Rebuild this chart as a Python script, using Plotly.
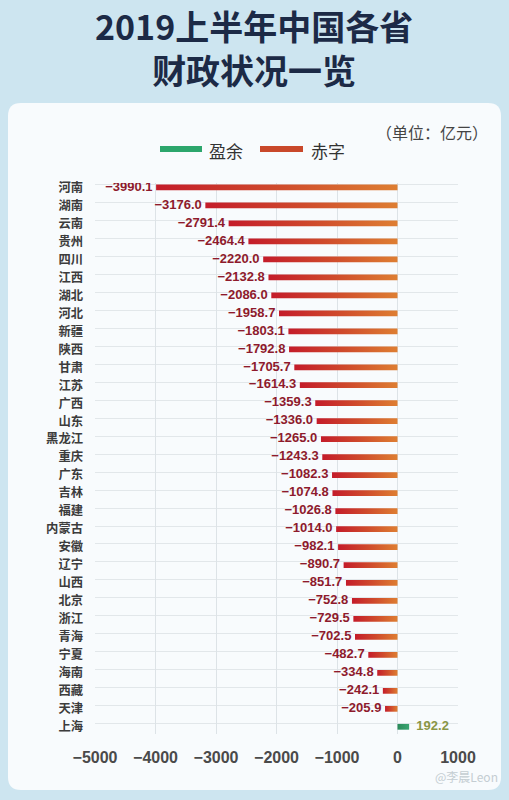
import plotly.graph_objects as go

# ---------------- data ----------------
provinces = ["河南", "湖南", "云南", "贵州", "四川", "江西", "湖北", "河北", "新疆", "陕西",
             "甘肃", "江苏", "广西", "山东", "黑龙江", "重庆", "广东", "吉林", "福建", "内蒙古",
             "安徽", "辽宁", "山西", "北京", "浙江", "青海", "宁夏", "海南", "西藏", "天津", "上海"]
balances = [-3990.1, -3176.0, -2791.4, -2464.4, -2220.0, -2132.8, -2086.0, -1958.7, -1803.1, -1792.8,
            -1705.7, -1614.3, -1359.3, -1336.0, -1265.0, -1243.3, -1082.3, -1074.8, -1026.8, -1014.0,
            -982.1, -890.7, -851.7, -752.8, -729.5, -702.5, -482.7, -334.8, -242.1, -205.9, 192.2]
x_ticks = [-5000, -4000, -3000, -2000, -1000, 0, 1000]
legend_names = ["盈余", "赤字"]
title_lines = ["2019上半年中国各省", "财政状况一览"]
unit_label = "（单位：亿元）"

# ---------------- layout geometry (pixels) ----------------
W, H = 509, 800
ML, MR, MT, MB = 95, 51, 183, 66
PW, PH = W - ML - MR, H - MT - MB


def px(x):
    return (x - ML) / PW


def py(y):
    return (H - MB - y) / PH


HALF = 0.16
fig = go.Figure()

for i, v in enumerate(balances):
    xs = [v, 0, 0, v, v]
    ys = [i - HALF, i - HALF, i + HALF, i + HALF, i - HALF]
    if v < 0:
        fig.add_trace(go.Scatter(
            x=xs, y=ys, mode="lines", fill="toself",
            fillgradient=dict(type="horizontal",
                              colorscale=[[0, "#c41c2a"], [0.5, "#cf4a2c"], [1, "#de7e32"]]),
            line=dict(width=0, color="rgba(0,0,0,0)"),
            name=legend_names[1], showlegend=False, hoverinfo="skip"))
    else:
        fig.add_trace(go.Scatter(
            x=xs, y=ys, mode="lines", fill="toself",
            fillgradient=dict(type="horizontal",
                              colorscale=[[0, "#2a8a5a"], [1, "#3aa572"]]),
            line=dict(width=0, color="rgba(0,0,0,0)"),
            name=legend_names[0], showlegend=False, hoverinfo="skip"))

idx = list(range(len(provinces)))
neg_i = [i for i, v in enumerate(balances) if v < 0]
pos_i = [i for i, v in enumerate(balances) if v >= 0]


def fmt(v):
    s = f"{abs(v):.1f}"
    return ("−" + s) if v < 0 else s


fig.add_trace(go.Scatter(
    x=[balances[i] for i in neg_i], y=neg_i, mode="text",
    text=[fmt(balances[i]) + " " for i in neg_i], textposition="middle left",
    textfont=dict(family="Liberation Sans, Arial", size=13, color="#8e1a2c", weight=700),
    showlegend=False, hoverinfo="skip"))
fig.add_trace(go.Scatter(
    x=[balances[i] for i in pos_i], y=pos_i, mode="text",
    text=["  " + fmt(balances[i]) for i in pos_i], textposition="middle right",
    textfont=dict(family="Liberation Sans, Arial", size=13, color="#8a9646", weight=700),
    showlegend=False, hoverinfo="skip"))

# rounded white panel
x0, x1, y0, y1, r = 8, 501, 103, 790, 13
path = (f"M {px(x0 + r)} {py(y0)} L {px(x1 - r)} {py(y0)} Q {px(x1)} {py(y0)} {px(x1)} {py(y0 + r)} "
        f"L {px(x1)} {py(y1 - r)} Q {px(x1)} {py(y1)} {px(x1 - r)} {py(y1)} "
        f"L {px(x0 + r)} {py(y1)} Q {px(x0)} {py(y1)} {px(x0)} {py(y1 - r)} "
        f"L {px(x0)} {py(y0 + r)} Q {px(x0)} {py(y0)} {px(x0 + r)} {py(y0)} Z")
shapes = [dict(type="path", xref="paper", yref="paper", path=path,
               fillcolor="#f8fbfd", line=dict(width=0), layer="below")]
# legend keys
shapes.append(dict(type="line", xref="paper", yref="paper",
                   x0=px(160), x1=px(202), y0=py(149), y1=py(149),
                   line=dict(color="#2ca66c", width=6)))
shapes.append(dict(type="line", xref="paper", yref="paper",
                   x0=px(260), x1=px(303), y0=py(149), y1=py(149),
                   line=dict(color="#c9482a", width=6)))

annotations = [
    dict(x=px(254), y=py(48), xref="paper", yref="paper",
         text="<br>".join(title_lines), showarrow=False,
         font=dict(family="Noto Sans CJK SC", size=34, color="#1c2a46", weight=700),
         xanchor="center", yanchor="middle", align="center"),
    dict(x=px(207), y=py(150), xref="paper", yref="paper", text=legend_names[0], showarrow=False,
         font=dict(family="Noto Sans CJK SC", size=17, color="#333333"),
         xanchor="left", yanchor="middle"),
    dict(x=px(309), y=py(150), xref="paper", yref="paper", text=legend_names[1], showarrow=False,
         font=dict(family="Noto Sans CJK SC", size=17, color="#333333"),
         xanchor="left", yanchor="middle"),
    dict(x=px(490), y=py(132), xref="paper", yref="paper", text=unit_label, showarrow=False,
         font=dict(family="Noto Sans CJK SC", size=16, color="#444444"),
         xanchor="right", yanchor="middle"),
    dict(x=px(500), y=py(776), xref="paper", yref="paper", text="@李晨Leon", showarrow=False,
         font=dict(family="Noto Sans CJK SC", size=12, color="#c4cdd2"),
         xanchor="right", yanchor="middle"),
]

fig.update_layout(
    width=W, height=H,
    margin=dict(l=ML, r=MR, t=MT, b=MB),
    paper_bgcolor="#cde5f0",
    plot_bgcolor="rgba(0,0,0,0)",
    showlegend=False,
    shapes=shapes,
    annotations=annotations,
    xaxis=dict(range=[-5000, 1000], tickvals=x_ticks,
               ticktext=[("−" + str(abs(t))) if t < 0 else str(t) for t in x_ticks],
               showgrid=True, gridcolor="#dde3e7", gridwidth=1, zeroline=False,
               showline=False, ticks="", ticklabelstandoff=12,
               tickfont=dict(family="Liberation Sans, Arial", size=16, color="#4a4a4a", weight=700)),
    yaxis=dict(range=[30.4, -0.25], tickvals=idx, ticktext=provinces,
               showgrid=False, zeroline=False, showline=False, ticks="",
               ticklabelstandoff=11,
               minor=dict(tickvals=[i - 0.17 for i in idx], showgrid=True,
                          gridcolor="#e2e7ea", gridwidth=1, ticks=""),
               tickfont=dict(family="Noto Sans CJK SC", size=12.3, color="#3c3c3c", weight=700)),
)

fig.write_html("out.html")
